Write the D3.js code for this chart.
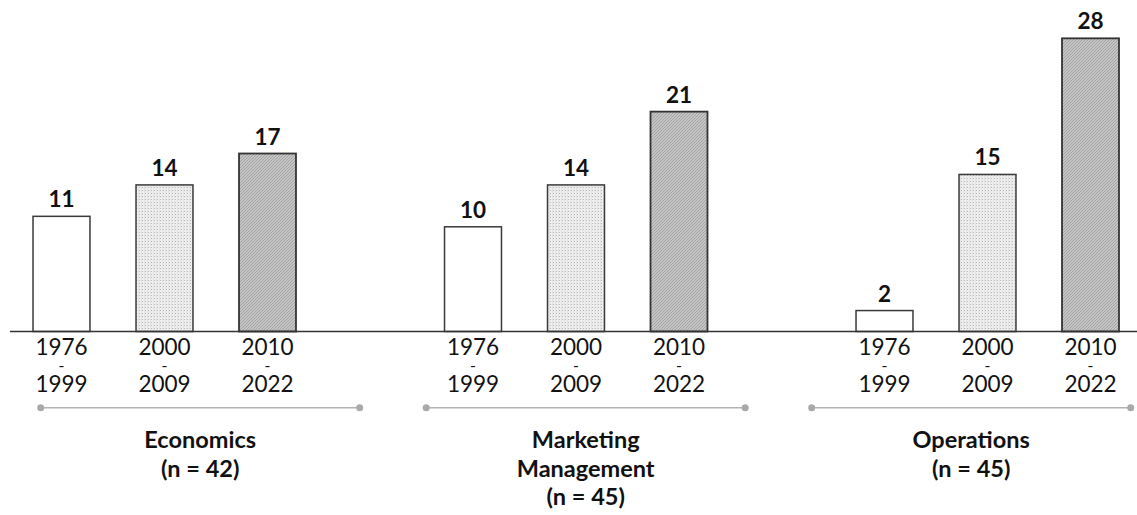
<!DOCTYPE html>
<html>
<head>
<meta charset="utf-8">
<script src="https://cdn.jsdelivr.net/npm/d3@7"></script>
<style>
  html, body { margin: 0; padding: 0; background: #fff; }
  svg { display: block; }
  text { font-family: Lato, "Open Sans", sans-serif; fill: #111; }
</style>
</head>
<body>
<svg id="chart" width="1137" height="515"></svg>
<script>
// Publications per field and period
const fields = ["Economics", "Marketing Management", "Operations"];
const fieldLabels = [["Economics", "(n = 42)"], ["Marketing", "Management", "(n = 45)"], ["Operations", "(n = 45)"]];
const periods = ["1976-1999", "2000-2009", "2010-2022"];
const periodLabels = [["1976", "-", "1999"], ["2000", "-", "2009"], ["2010", "-", "2022"]];
const economics = [11, 14, 17];
const marketing = [10, 14, 21];
const operations = [2, 15, 28];
const seriesByField = [economics, marketing, operations];

const svg = d3.select("#chart");
const W = 1137;
const baseY = 331.5;

// patterns for the three period fills
const defs = svg.append("defs");
const dots = defs.append("pattern").attr("id", "dots")
  .attr("patternUnits", "userSpaceOnUse").attr("width", 3).attr("height", 3);
dots.append("rect").attr("width", 3).attr("height", 3).attr("fill", "#efefef");
dots.append("rect").attr("x", 1).attr("y", 1).attr("width", 1).attr("height", 1).attr("fill", "#b8b8b8");
dots.append("rect").attr("x", 0).attr("y", 0).attr("width", 1).attr("height", 3).attr("fill", "#e3e3e3");

const hatch = defs.append("pattern").attr("id", "hatch")
  .attr("patternUnits", "userSpaceOnUse").attr("width", 3).attr("height", 3);
hatch.append("rect").attr("width", 3).attr("height", 3).attr("fill", "#c4c4c4");
hatch.append("path").attr("d", "M-1,1 l2,-2 M0,3 l3,-3 M2,4 l2,-2")
  .attr("stroke", "#a0a0a0").attr("stroke-width", 0.9);

const fills = ["#ffffff", "url(#dots)", "url(#hatch)"];

// scales
const x0 = d3.scaleBand().domain(fields).range([10, 10 + 3 * 411.5]).padding(0);
const x1 = d3.scaleBand().domain(periods).range([0, 309]).paddingInner(0.447).paddingOuter(0.2235);
const y = d3.scaleLinear().domain([0, 30]).range([baseY, baseY - 30 * 10.47]);
const xGroupLine = d3.scaleBand().domain(fields).range([40.7, 1130.7]).paddingInner(0.1725).paddingOuter(0);

// bars
const rows = [];
fields.forEach((f, i) => periods.forEach((p, j) => rows.push({ field: f, period: p, j, value: seriesByField[i][j] })));

const g = svg.append("g");
g.selectAll("rect.bar").data(rows).join("rect")
  .attr("class", "bar")
  .attr("x", d => x0(d.field) + x1(d.period))
  .attr("y", d => y(d.value))
  .attr("width", x1.bandwidth())
  .attr("height", d => y(0) - y(d.value))
  .attr("fill", d => fills[d.j])
  .attr("stroke", d => d.j === 2 ? "#333" : "#3a3a3a")
  .attr("stroke-width", d => d.j === 2 ? 1.8 : 1.5);

// value labels
g.selectAll("text.val").data(rows).join("text")
  .attr("class", "val")
  .attr("x", d => x0(d.field) + x1(d.period) + x1.bandwidth() / 2)
  .attr("y", d => y(d.value) - 9)
  .attr("text-anchor", "middle")
  .attr("font-size", 22.5).attr("font-weight", 700)
  .text(d => d.value);

// baseline
svg.append("line").attr("x1", 10).attr("x2", W).attr("y1", baseY).attr("y2", baseY)
  .attr("stroke", "#333").attr("stroke-width", 1.5);

// period tick labels
const ticks = svg.append("g").selectAll("text").data(rows).join("text")
  .attr("text-anchor", "middle").attr("font-size", 22.5);
ticks.selectAll("tspan").data(d => periodLabels[d.j].map(s => ({ s, d })))
  .join("tspan")
  .attr("x", t => x0(t.d.field) + x1(t.d.period) + x1.bandwidth() / 2)
  .attr("y", (t, k) => k === 1 ? 371 : 355 + k * 18.3)
  .attr("font-size", (t, k) => k === 1 ? 16 : 22.5)
  .text(t => t.s);

// group range lines with end dots
const groupG = svg.append("g").selectAll("g").data(fields).join("g");
groupG.append("line")
  .attr("x1", f => xGroupLine(f)).attr("x2", f => xGroupLine(f) + xGroupLine.bandwidth())
  .attr("y1", 407.7).attr("y2", 407.7)
  .attr("stroke", "#b3b3b3").attr("stroke-width", 1.6);
groupG.selectAll("circle").data(f => [xGroupLine(f), xGroupLine(f) + xGroupLine.bandwidth()])
  .join("circle").attr("cx", d => d).attr("cy", 407.7).attr("r", 3.5).attr("fill", "#a9a9a9");

// group names
groupG.append("text")
  .attr("text-anchor", "middle").attr("font-size", 23.5).attr("font-weight", 700)
  .selectAll("tspan").data((f, i) => fieldLabels[i].map(s => ({ s, f })))
  .join("tspan")
  .attr("x", t => xGroupLine(t.f) + xGroupLine.bandwidth() / 2)
  .attr("y", (t, k) => 448 + k * 28.5)
  .text(t => t.s);
</script>
</body>
</html>
